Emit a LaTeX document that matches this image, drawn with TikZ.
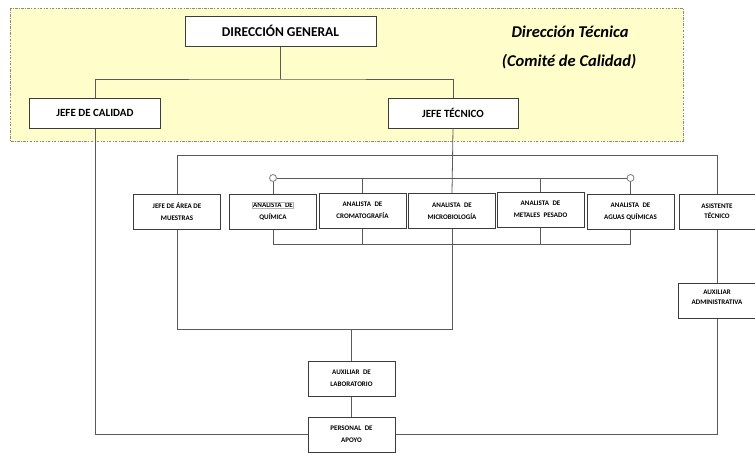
\documentclass[tikz,border=0pt]{standalone}
\usepackage{fontspec}
\setmainfont{Carlito}
\definecolor{fondo comite}{HTML}{FFFDCA}
\definecolor{borde comite}{HTML}{8A8A7A}
\definecolor{borde cargo}{HTML}{3C3C3C}
\definecolor{linea}{HTML}{5A5A5A}
\tikzset{
	organigrama/.is family,
	organigrama/.cd,
	comite/.style = {
		fill = fondo comite,
		draw = borde comite,
		line width = 0.6pt,
		dash pattern = on 2.5pt off 1.5pt on 0.6pt off 1.5pt,
	},
	cargo/.style = {
		draw = borde cargo,
		line width = 1pt,
		fill = white,
		align = center,
		inner sep = 1pt,
		minimum width = 87pt,
		minimum height = 35pt,
		font = \fontsize{7}{12}\selectfont\bfseries,
	},
	cargo alto/.style = {
		organigrama/cargo,
		minimum height = 30pt,
		font = \fontsize{11}{12}\selectfont\bfseries,
	},
	cargo lateral/.style = {
		organigrama/cargo,
		minimum width = 77pt,
		font = \fontsize{7}{10}\selectfont\bfseries,
	},
	titulo/.style = {
		inner sep = 0pt,
		font = \fontsize{16.5}{18}\selectfont\bfseries\itshape,
	},
	enlace/.style = {
		draw = linea,
		line width = 0.8pt,
	},
	nudo/.style = {
		circle,
		draw = linea!80,
		line width = 0.8pt,
		fill = white,
		inner sep = 0pt,
		minimum size = 7pt,
	},
}

\begin{document}
\begin{tikzpicture}[x = 1pt, y = -1pt]
	\useasboundingbox (0, 0) rectangle (755, 453);

	% comite de calidad
	\path[organigrama/comite] (10, 8) rectangle (683, 141);
	\node[organigrama/titulo] (dt) at (570, 32) {Dirección Técnica};
	\node[organigrama/titulo] (cc) at (569, 62) {(Comité de Calidad)};

	\node[organigrama/cargo alto, minimum width = 191pt, font = \fontsize{13.5}{15}\selectfont\bfseries] (dg) at (280.5, 31) {DIRECCIÓN GENERAL};
	\node[organigrama/cargo alto, minimum width = 131pt] (jc) at (95, 113) {JEFE DE CALIDAD};
	\node[organigrama/cargo alto, minimum width = 130pt] (jt) at (453, 113) {JEFE TÉCNICO};

	% fila de cargos
	\node[organigrama/cargo] (jam) at (177, 211.5) {JEFE DE ÁREA DE\\MUESTRAS};
	\node[organigrama/cargo] (aq) at (273, 211.5) {{\fboxsep = 0.6pt\fboxrule = 0.3pt\fcolorbox{gray!60}{white}{ANALISTA\enspace DE}}\\QUÍMICA};
	\node[organigrama/cargo] (acr) at (362.5, 210.5) {ANALISTA\enspace DE\\CROMATOGRAFÍA};
	\node[organigrama/cargo] (amb) at (452, 211) {ANALISTA\enspace DE\\MICROBIOLOGÍA};
	\node[organigrama/cargo] (amp) at (540.5, 209.5) {ANALISTA\enspace DE\\METALES\enspace PESADO};
	\node[organigrama/cargo] (aaq) at (630.5, 211.5) {ANALISTA\enspace DE\\AGUAS QUÍMICAS};
	\node[organigrama/cargo lateral, minimum width = 76pt] (ast) at (717, 211.5) {ASISTENTE\\TÉCNICO};
	\node[organigrama/cargo lateral] (aad) at (717, 300.5) {AUXILIAR\\ADMINISTRATIVA\\[-4pt]};

	\node[organigrama/cargo] (alab) at (351.5, 378.5) {AUXILIAR\enspace DE\\LABORATORIO};
	\node[organigrama/cargo] (pap) at (351.5, 434.5) {PERSONAL\enspace DE\\APOYO};

	\coordinate (rama) at (280.5, 79);
	\coordinate (bus analistas) at (0, 244);
	\coordinate (bus muestras) at (0, 329);
	\node[organigrama/nudo] (n1) at (273, 178) {};
	\node[organigrama/nudo] (n2) at (630.5, 178) {};

	\draw[organigrama/enlace] (dg) -- (rama);
	\draw[organigrama/enlace] (jc.north) |- (rama) -| (jt.north);
	\draw[organigrama/enlace] (jt.south) -- (amb.north);
	\draw[organigrama/enlace] (jam.north) -- ++(0, -38) -| (ast.north);
	\draw[organigrama/enlace] (n1) -- (n2);
	\draw[organigrama/enlace] (n1) -- (aq.north);
	\draw[organigrama/enlace] (n2) -- (aaq.north);
	\draw[organigrama/enlace] (acr.north) -- (acr.north |- n1);
	\draw[organigrama/enlace] (amp.north) -- (amp.north |- n1);
	\draw[organigrama/enlace] (aq.south) |- (bus analistas -| aaq.south) -- (aaq.south);
	\draw[organigrama/enlace] (acr.south) -- (acr.south |- bus analistas);
	\draw[organigrama/enlace] (amp.south) -- (amp.south |- bus analistas);
	\draw[organigrama/enlace] (jam.south) |- (bus muestras -| amb.south) -- (amb.south);
	\draw[organigrama/enlace] (alab.north) -- (alab.north |- bus muestras);
	\draw[organigrama/enlace] (alab) -- (pap);
	\draw[organigrama/enlace] (ast) -- (aad);
	\draw[organigrama/enlace] (jc.south) |- (pap.west);
	\draw[organigrama/enlace] (pap.east) -| (aad.south);
\end{tikzpicture}
\end{document}
